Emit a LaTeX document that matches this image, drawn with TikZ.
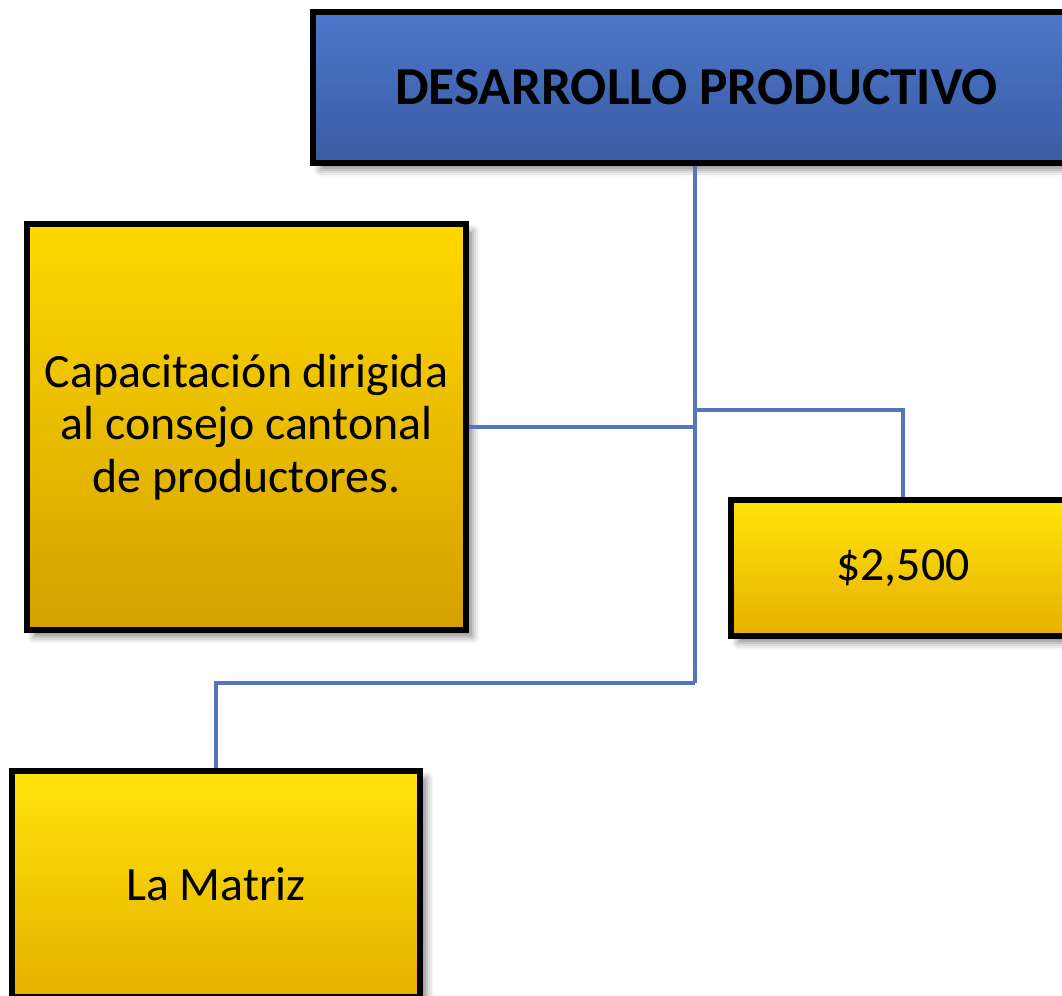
\documentclass[tikz,border=0pt]{standalone}
\usepackage{fontspec}
\setmainfont{Carlito}
\usepackage{tikz}
\usetikzlibrary{shapes,arrows,shadows.blur}
\definecolor{titletop}{HTML}{4C77CC}
\definecolor{titlebot}{HTML}{3A5BA0}
\definecolor{goldtop}{HTML}{FFD800}
\definecolor{goldbot}{HTML}{D3A100}
\definecolor{yeltop}{HTML}{FFE40A}
\definecolor{yelbot}{HTML}{E6B000}
\definecolor{connblue}{HTML}{5574BA}
\begin{document}
\begin{tikzpicture}[draw=black!100,scale=1.0]
 	\def \trunkx{6.95}
 	\def \branchy{5.86}
 	\def \footy{3.13}
 	\tikzstyle{t-node}=[rectangle,draw=black!100,line width=1.6pt,top color=titletop,bottom color=titlebot,blur shadow={shadow xshift=2pt,shadow yshift=-2pt,shadow opacity=45},font=\fontsize{15.2}{18}\selectfont\bfseries]
 	\tikzstyle{g-node}=[rectangle,draw=black!100,line width=1.6pt,top color=goldtop,bottom color=goldbot,blur shadow={shadow xshift=2pt,shadow yshift=-2pt,shadow opacity=45},align=center,font=\fontsize{13.6}{14.9}\selectfont]
 	\tikzstyle{y-node}=[g-node,top color=yeltop,bottom color=yelbot]
 	\tikzstyle{conn}=[draw=connblue,line width=1.1pt]
 	\useasboundingbox (0,0) rectangle (10.62,9.96);
 	% title
 	\node[t-node,minimum width=7.67cm,minimum height=1.51cm] (desarrollo) at (6.965,9.085) {DESARROLLO PRODUCTIVO};
 	% boxes
 	\node[g-node,minimum width=4.39cm,minimum height=4.06cm] (capacitacion) at (2.465,5.69) {Capacitación dirigida\\al consejo cantonal\\de productores.};
 	\node[y-node,minimum width=3.44cm,minimum height=1.36cm] (monto) at (9.03,4.28) {\$2,500};
 	\node[y-node,minimum width=4.08cm,minimum height=2.26cm] (matriz) at (2.16,1.12) {La Matriz};
 	% connectors
 	\coordinate (branch) at (\trunkx,\branchy);
 	\coordinate (foot) at (\trunkx,\footy);
 	\draw[conn] (desarrollo.south -| foot) -- (foot);
 	\draw[conn] (capacitacion.east) -- (capacitacion.east -| foot);
 	\draw[conn] (branch) -| (monto.north);
 	\draw[conn] (foot) -| (matriz.north);
\end{tikzpicture}
\end{document}
